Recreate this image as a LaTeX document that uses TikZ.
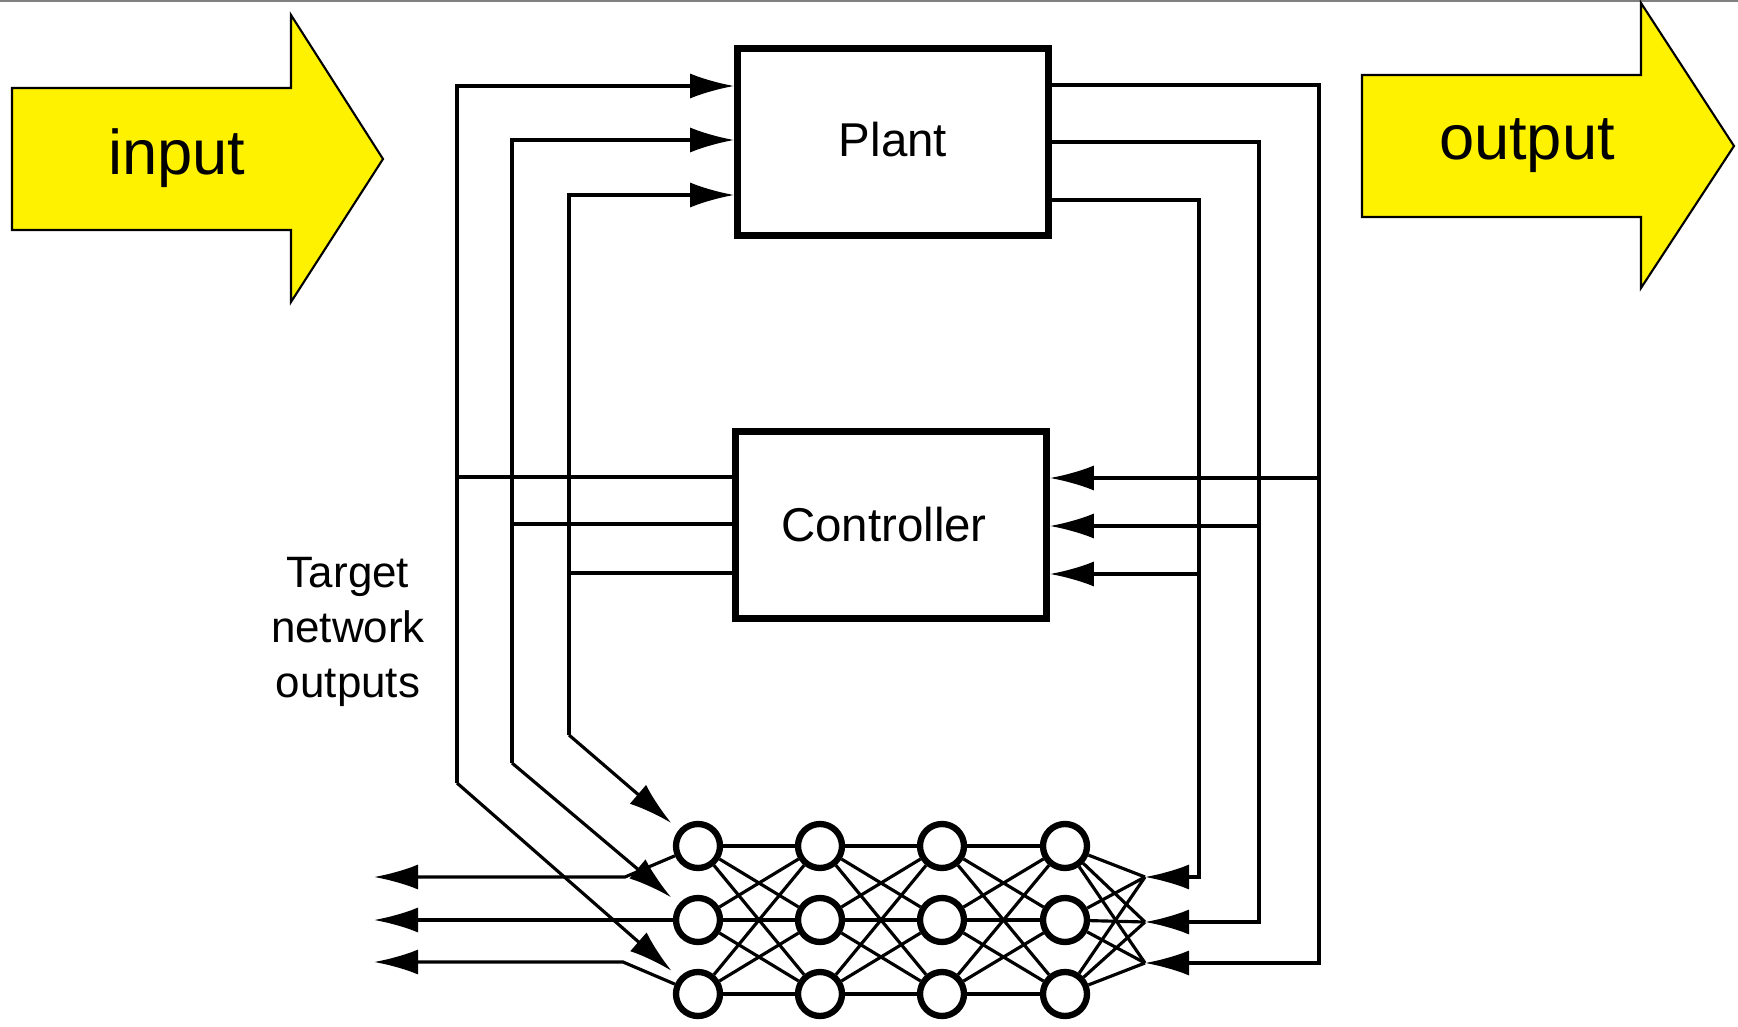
\documentclass[tikz,border=0pt]{standalone}
\usepackage{fontspec}
\setmainfont{Liberation Sans}
\usetikzlibrary{arrows.meta}

\begin{document}
\begin{tikzpicture}[x=0.1mm, y=-0.1mm,
                    >={Latex[length=4.4mm,width=2.5mm]},
                    cable/.style={line width=0.9pt},
                    bloque/.style={draw, line width=1.9pt, minimum width=31.1mm,
                                   minimum height=18.7mm, font=\fontsize{13.5pt}{16pt}\selectfont},
                    neurona/.style={circle, draw, line width=1.8pt, minimum size=4.4mm, inner sep=0pt},
                    flecha/.style={fill=yellow, draw=black, line width=0.6pt},
                    rotulo/.style={font=\fontsize{18pt}{22pt}\selectfont}]

    \useasboundingbox (0,0) rectangle (1738,1027);
    \draw[gray, line width=0.5pt] (0,1) -- (1738,1);

    % ==========================================================
    % flechas de entrada y salida
    % ==========================================================
    \filldraw[flecha] (12,88) -- (291,88) -- (291,15) -- (383,159) -- (291,302)
                      -- (291,230) -- (12,230) -- cycle;
    \node[rotulo] (input) at (177,158) {input};

    \filldraw[flecha] (1362,75) -- (1641,75) -- (1641,3) -- (1734,146) -- (1641,288)
                      -- (1641,217) -- (1362,217) -- cycle;
    \node[rotulo] (output) at (1527,146) {output};

    % ==========================================================
    % bloques
    % ==========================================================
    \node[bloque] (plant) at (893,142) {\raisebox{0.6mm}{Plant}};
    \node[bloque] (ctrl) at (891,525) {\hspace*{-1.4mm}Controller};

    % ==========================================================
    % red neuronal
    % ==========================================================
    \foreach \c/\x in {1/698, 2/820, 3/942, 4/1065} {
        \foreach \r/\y in {1/846, 2/920, 3/994} {
            \node[neurona] (n\c\r) at (\x,\y) {};
        }
    }

    % conexiones entre capas
    \foreach \c/\d in {1/2, 2/3, 3/4} {
        \foreach \r in {1,2,3} {
            \foreach \s in {1,2,3} {
                \draw[cable] (n\c\r) -- (n\d\s);
            }
        }
    }

    % cables de la izquierda (salidas del controlador)
    \foreach \i/\x/\yp/\yc/\yb/\r in {1/457/86/477/783/3, 2/512/140/524/763/2,
                                      3/569/195/573/735/1} {
        \coordinate (L\i) at (\x,\yb);
        \draw[cable, ->] (L\i) |- (plant.west |- 0,\yp);
        \draw[cable] (ctrl.west |- 0,\yc) -- (\x,\yc);
        \draw[cable, ->, shorten >=1mm] (L\i) -- (n1\r);
    }

    % cables de la derecha (salidas de la planta)
    \foreach \i/\x/\yp/\yc/\yb in {1/1319/85/478/963, 2/1259/142/526/922,
                                   3/1199/200/574/877} {
        \coordinate (R\i) at (1145,\yb);
        \draw[cable, ->] (plant.east |- 0,\yp) -| (\x,\yb) -- (R\i);
        \draw[cable, ->] (\x,\yc) -- (ctrl.east |- 0,\yc);
        \foreach \r in {1,2,3} {
            \draw[cable] (R\i) -- (n4\r);
        }
    }

    % salidas de la red
    \coordinate (S1) at (374,877);
    \coordinate (S2) at (374,920);
    \coordinate (S3) at (374,962);
    \draw[cable, ->] (n11) -- (625,877) -- (S1);
    \draw[cable, ->] (n12) -- (S2);
    \draw[cable, ->] (n13) -- (623,962) -- (S3);

    \node[align=center, font=\fontsize{12.5pt}{15.6pt}\selectfont] (etiqueta) at (348,632)
        {Target\\network\\outputs};

\end{tikzpicture}
\end{document}
